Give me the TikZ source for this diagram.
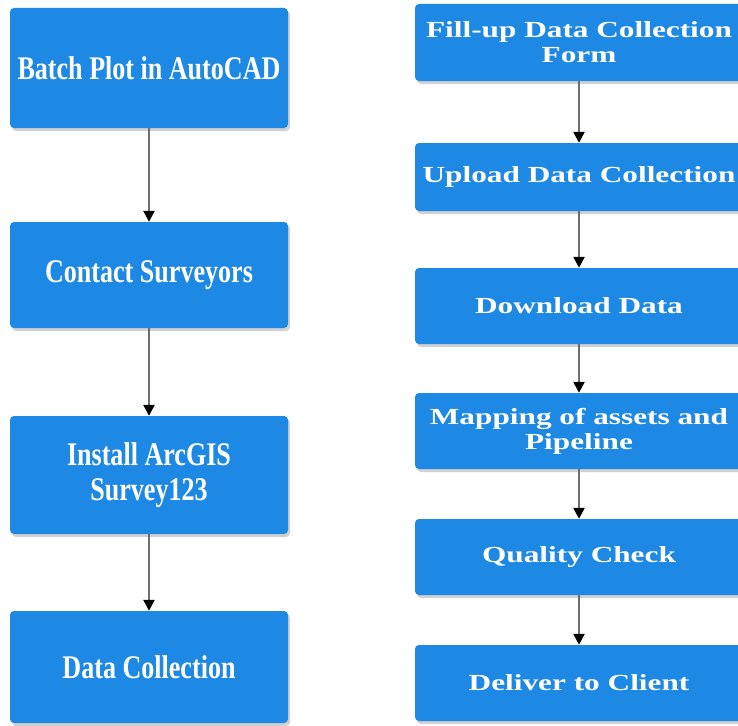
\documentclass[tikz,border=0pt]{standalone}
\usepackage{fontspec}
\setmainfont{Liberation Serif}
\newfontfamily\leftfnt[FakeStretch=0.79]{Liberation Serif}
\newfontfamily\rightfnt[FakeStretch=1.36]{Liberation Serif}
\usetikzlibrary{shadows,arrows.meta}
\definecolor{boxblue}{HTML}{1E88E5}
\definecolor{linegray}{HTML}{6E6E6E}
\tikzset{
  box/.style={fill=boxblue, rounded corners=4pt, text=white, align=center, inner sep=0pt,
    drop shadow={shadow xshift=2pt, shadow yshift=-3pt, opacity=0.18, fill=black}},
  lbox/.style={box, minimum width=278pt, font=\leftfnt\bfseries\fontsize{33}{35}\selectfont},
  rbox/.style={box, minimum width=328pt, font=\rightfnt\bfseries\fontsize{23}{25}\selectfont},
  conn/.style={draw=linegray, line width=2.4pt, -{Triangle[length=11pt,width=11pt,color=black,fill=black]}}
}
\begin{document}
\begin{tikzpicture}[x=1pt,y=-1pt]
\useasboundingbox[fill=white] (0,0) rectangle (738,725);
% left column
\node[lbox, minimum height=120pt] (l1) at (149,68) {Batch Plot in AutoCAD};
\node[lbox, minimum height=106pt] (l2) at (149,275) {Contact Surveyors};
\node[lbox, minimum height=118pt] (l3) at (149,475) {Install ArcGIS\\Survey123};
\node[lbox, minimum height=112pt] (l4) at (149,667) {Data Collection};
% right column
\node[rbox, minimum height=77pt] (r1) at (579,42.5) {Fill-up Data Collection\\Form};
\node[rbox, minimum height=68pt] (r2) at (579,177) {Upload Data Collection};
\node[rbox, minimum height=76pt] (r3) at (579,306) {Download Data};
\node[rbox, minimum height=76pt] (r4) at (579,431) {Mapping of assets and\\Pipeline};
\node[rbox, minimum height=76pt] (r5) at (579,557) {Quality Check};
\node[rbox, minimum height=76pt] (r6) at (579,683) {Deliver to Client};
% connectors
\draw[conn] (l1) -- (l2);
\draw[conn] (l2) -- (l3);
\draw[conn] (l3) -- (l4);
\draw[conn] (r1) -- (r2);
\draw[conn] (r2) -- (r3);
\draw[conn] (r3) -- (r4);
\draw[conn] (r4) -- (r5);
\draw[conn] (r5) -- (r6);
\end{tikzpicture}
\end{document}
